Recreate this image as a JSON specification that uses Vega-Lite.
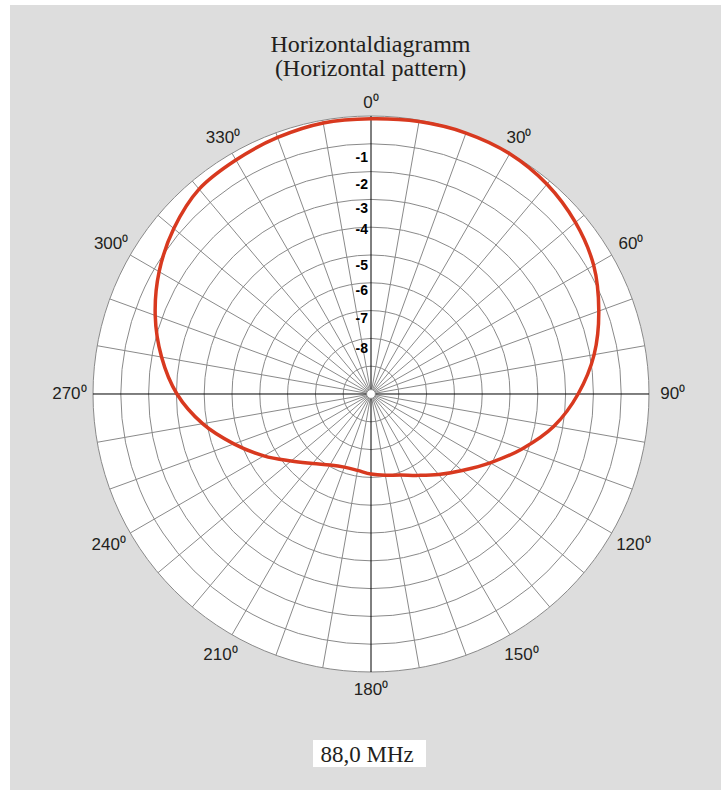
{
  "$schema": "https://vega.github.io/schema/vega-lite/v6.json",
  "width": 711,
  "height": 785,
  "autosize": {"type": "none"},
  "padding": {"left": 10, "top": 5, "right": 0, "bottom": 0},
  "background": "#ffffff",
  "config": {"view": {"fill": "#dddddd", "stroke": null}, "font": "Liberation Sans"},
  "title": {
    "text": ["Horizontaldiagramm", "(Horizontal pattern)"],
    "font": "Liberation Serif",
    "fontSize": 24,
    "fontWeight": "normal",
    "color": "#231f20",
    "lineHeight": 24,
    "anchor": "middle",
    "frame": "group",
    "baseline": "top",
    "offset": -76,
    "dx": 5
  },
  "datasets": {
    "pattern": [
      {"angle": 0, "level": 0.990},
      {"angle": 10, "level": 0.995},
      {"angle": 20, "level": 0.999},
      {"angle": 30, "level": 0.998},
      {"angle": 40, "level": 0.985},
      {"angle": 50, "level": 0.960},
      {"angle": 60, "level": 0.925},
      {"angle": 70, "level": 0.872},
      {"angle": 80, "level": 0.815},
      {"angle": 90, "level": 0.745},
      {"angle": 100, "level": 0.668},
      {"angle": 110, "level": 0.578},
      {"angle": 120, "level": 0.495},
      {"angle": 130, "level": 0.428},
      {"angle": 140, "level": 0.378},
      {"angle": 150, "level": 0.338},
      {"angle": 160, "level": 0.310},
      {"angle": 170, "level": 0.297},
      {"angle": 180, "level": 0.288},
      {"angle": 190, "level": 0.279},
      {"angle": 200, "level": 0.280},
      {"angle": 210, "level": 0.295},
      {"angle": 220, "level": 0.326},
      {"angle": 230, "level": 0.375},
      {"angle": 240, "level": 0.445},
      {"angle": 250, "level": 0.525},
      {"angle": 260, "level": 0.615},
      {"angle": 270, "level": 0.698},
      {"angle": 280, "level": 0.765},
      {"angle": 290, "level": 0.826},
      {"angle": 300, "level": 0.880},
      {"angle": 310, "level": 0.926},
      {"angle": 320, "level": 0.962},
      {"angle": 330, "level": 0.972},
      {"angle": 340, "level": 0.982},
      {"angle": 350, "level": 0.990}
    ],
    "rings": [
      {"r": 0.1}, {"r": 0.2}, {"r": 0.3}, {"r": 0.4}, {"r": 0.5},
      {"r": 0.6}, {"r": 0.7}, {"r": 0.8}, {"r": 0.9}, {"r": 1.0}
    ],
    "spokes": [
      {"a": 10}, {"a": 20}, {"a": 30}, {"a": 40}, {"a": 50}, {"a": 60}, {"a": 70}, {"a": 80},
      {"a": 100}, {"a": 110}, {"a": 120}, {"a": 130}, {"a": 140}, {"a": 150}, {"a": 160}, {"a": 170},
      {"a": 190}, {"a": 200}, {"a": 210}, {"a": 220}, {"a": 230}, {"a": 240}, {"a": 250}, {"a": 260},
      {"a": 280}, {"a": 290}, {"a": 300}, {"a": 310}, {"a": 320}, {"a": 330}, {"a": 340}, {"a": 350},
      {"a": 0}, {"a": 90}, {"a": 180}, {"a": 270}
    ],
    "dblabels": [
      {"label": "-1", "level": 0.849},
      {"label": "-2", "level": 0.752},
      {"label": "-3", "level": 0.667},
      {"label": "-4", "level": 0.590},
      {"label": "-5", "level": 0.460},
      {"label": "-6", "level": 0.370},
      {"label": "-7", "level": 0.268},
      {"label": "-8", "level": 0.163}
    ],
    "anglelabels": [
      {"angle": 0, "label": "0⁰"},
      {"angle": 30, "label": "30⁰"},
      {"angle": 60, "label": "60⁰"},
      {"angle": 90, "label": "90⁰"},
      {"angle": 120, "label": "120⁰"},
      {"angle": 150, "label": "150⁰"},
      {"angle": 180, "label": "180⁰"},
      {"angle": 210, "label": "210⁰"},
      {"angle": 240, "label": "240⁰"},
      {"angle": 270, "label": "270⁰"},
      {"angle": 300, "label": "300⁰"},
      {"angle": 330, "label": "330⁰"}
    ]
  },
  "layer": [
    {
      "data": {"values": [{"r": 1}]},
      "mark": {"type": "arc", "fill": "#ffffff", "stroke": null, "theta": 0, "theta2": 6.2832},
      "encoding": {
        "x": {"datum": 0, "type": "quantitative", "scale": {"domain": [-1.29856, 1.25899], "nice": false, "zero": false}, "axis": null},
        "y": {"datum": 0, "type": "quantitative", "scale": {"domain": [-1.42446, 1.39928], "nice": false, "zero": false}, "axis": null},
        "radius": {"field": "r", "type": "quantitative", "stack": null, "scale": {"type": "linear", "domain": [0, 1], "range": [0, 278], "zero": true}, "legend": null}
      }
    },
    {
      "data": {"name": "rings"},
      "mark": {"type": "arc", "filled": false, "fill": null, "stroke": "#8a8a8a", "strokeWidth": 1, "theta": 0, "theta2": 6.2832},
      "encoding": {
        "x": {"datum": 0, "type": "quantitative", "scale": {"domain": [-1.29856, 1.25899], "nice": false, "zero": false}, "axis": null},
        "y": {"datum": 0, "type": "quantitative", "scale": {"domain": [-1.42446, 1.39928], "nice": false, "zero": false}, "axis": null},
        "radius": {"field": "r", "type": "quantitative", "stack": null, "scale": {"type": "linear", "domain": [0, 1], "range": [0, 278], "zero": true}, "legend": null}
      }
    },
    {
      "data": {"name": "spokes"},
      "transform": [
        {"calculate": "0", "as": "x0"},
        {"calculate": "0", "as": "y0"},
        {"calculate": "sin(datum.a * PI / 180)", "as": "x1"},
        {"calculate": "cos(datum.a * PI / 180)", "as": "y1"}
      ],
      "mark": {"type": "rule", "strokeWidth": 1},
      "encoding": {
        "x": {"field": "x0", "type": "quantitative", "scale": {"domain": [-1.29856, 1.25899], "nice": false, "zero": false}, "axis": null},
        "y": {"field": "y0", "type": "quantitative", "scale": {"domain": [-1.42446, 1.39928], "nice": false, "zero": false}, "axis": null},
        "x2": {"field": "x1"},
        "y2": {"field": "y1"},
        "color": {"condition": {"test": "datum.a % 90 === 0", "value": "#000000"}, "value": "#8a8a8a"}
      }
    },
    {
      "data": {"values": [{"r": 0.016}]},
      "mark": {"type": "arc", "fill": "#ffffff", "stroke": "#8a8a8a", "strokeWidth": 1, "theta": 0, "theta2": 6.2832},
      "encoding": {
        "x": {"datum": 0, "type": "quantitative", "scale": {"domain": [-1.29856, 1.25899], "nice": false, "zero": false}, "axis": null},
        "y": {"datum": 0, "type": "quantitative", "scale": {"domain": [-1.42446, 1.39928], "nice": false, "zero": false}, "axis": null},
        "radius": {"field": "r", "type": "quantitative", "stack": null, "scale": {"type": "linear", "domain": [0, 1], "range": [0, 278], "zero": true}, "legend": null}
      }
    },
    {
      "data": {"name": "pattern"},
      "transform": [
        {"calculate": "datum.level * sin(datum.angle * PI / 180)", "as": "px"},
        {"calculate": "datum.level * cos(datum.angle * PI / 180)", "as": "py"}
      ],
      "mark": {"type": "line", "color": "#d8391f", "strokeWidth": 3.5, "interpolate": "cardinal-closed"},
      "encoding": {
        "x": {"field": "px", "type": "quantitative", "scale": {"domain": [-1.29856, 1.25899], "nice": false, "zero": false}, "axis": null},
        "y": {"field": "py", "type": "quantitative", "scale": {"domain": [-1.42446, 1.39928], "nice": false, "zero": false}, "axis": null},
        "order": {"field": "angle", "type": "quantitative"}
      }
    },
    {
      "data": {"name": "dblabels"},
      "mark": {"type": "text", "align": "right", "baseline": "middle", "dx": -3, "fontSize": 14, "fontWeight": "bold", "font": "Liberation Sans", "color": "#000000"},
      "encoding": {
        "x": {"datum": 0, "type": "quantitative", "scale": {"domain": [-1.29856, 1.25899], "nice": false, "zero": false}, "axis": null},
        "y": {"field": "level", "type": "quantitative", "scale": {"domain": [-1.42446, 1.39928], "nice": false, "zero": false}, "axis": null},
        "text": {"field": "label"}
      }
    },
    {
      "data": {"name": "anglelabels"},
      "transform": [
        {"calculate": "1.045 + 0.04 * abs(sin(datum.angle * PI / 180)) + 0.02 * max(0, -cos(datum.angle * PI / 180))", "as": "rr"},
        {"calculate": "datum.rr * sin(datum.angle * PI / 180)", "as": "lx"},
        {"calculate": "datum.rr * cos(datum.angle * PI / 180)", "as": "ly"}
      ],
      "mark": {"type": "text", "align": "center", "baseline": "middle", "fontSize": 17, "font": "Liberation Sans", "color": "#231f20"},
      "encoding": {
        "x": {"field": "lx", "type": "quantitative", "scale": {"domain": [-1.29856, 1.25899], "nice": false, "zero": false}, "axis": null},
        "y": {"field": "ly", "type": "quantitative", "scale": {"domain": [-1.42446, 1.39928], "nice": false, "zero": false}, "axis": null},
        "text": {"field": "label"}
      }
    },
    {
      "data": {"values": [{"x1": -0.2086, "x2": 0.1978, "y1": -1.2446, "y2": -1.3417}]},
      "mark": {"type": "rect", "fill": "#ffffff", "stroke": null},
      "encoding": {
        "x": {"field": "x1", "type": "quantitative", "scale": {"domain": [-1.29856, 1.25899], "nice": false, "zero": false}, "axis": null},
        "x2": {"field": "x2"},
        "y": {"field": "y1", "type": "quantitative", "scale": {"domain": [-1.42446, 1.39928], "nice": false, "zero": false}, "axis": null},
        "y2": {"field": "y2"}
      }
    },
    {
      "data": {"values": [{"label": "88,0 MHz", "fx": -0.014, "fy": -1.3227}]},
      "mark": {"type": "text", "align": "center", "baseline": "alphabetic", "fontSize": 23, "font": "Liberation Serif", "color": "#231f20"},
      "encoding": {
        "x": {"field": "fx", "type": "quantitative", "scale": {"domain": [-1.29856, 1.25899], "nice": false, "zero": false}, "axis": null},
        "y": {"field": "fy", "type": "quantitative", "scale": {"domain": [-1.42446, 1.39928], "nice": false, "zero": false}, "axis": null},
        "text": {"field": "label"}
      }
    }
  ]
}
